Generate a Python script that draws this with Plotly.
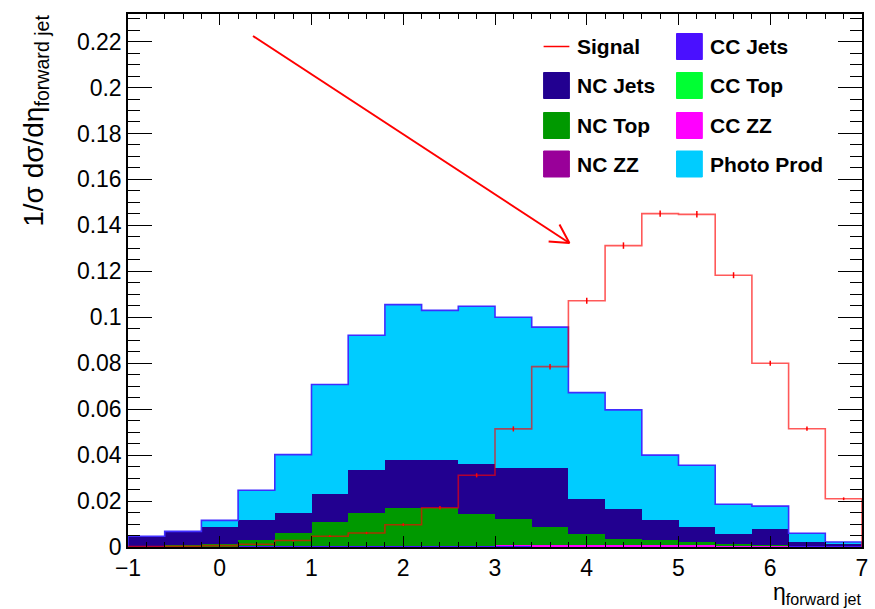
import numpy as np
import plotly.graph_objects as go

# ---------------- data ----------------
bin_edges = [-1.0, -0.6, -0.2, 0.2, 0.6, 1.0, 1.4, 1.8, 2.2, 2.6, 3.0,
             3.4, 3.8, 4.2, 4.6, 5.0, 5.4, 5.8, 6.2, 6.6, 7.0]

nc_zz = [0, 0, 0, 0, 0, 0, 0, 0, 0, 0, 0, 0, 0, 0, 0, 0, 0.0004, 0.0004, 0.0002, 0.0001]
cc_jets = [0, 0.0002, 0.0002, 0.0003, 0.0005, 0.0006, 0.0006, 0.0006, 0.0006, 0.0006, 0.0005,
           0, 0, 0, 0, 0, 0, 0, 0.0003, 0.0004]
cc_top = [0, 0, 0, 0, 0, 0, 0, 0, 0, 0, 0, 0, 0, 0, 0, 0, 0, 0, 0, 0]
cc_zz = [0, 0, 0, 0, 0, 0, 0, 0, 0, 0, 0.0003, 0.0008, 0.0008, 0.0008, 0.0008, 0.0008, 0.0004, 0.0002, 0, 0]
nc_top = [0, 0.0008, 0.001, 0.0027, 0.0057, 0.0104, 0.0144, 0.0164, 0.0164, 0.0136, 0.0112,
          0.0079, 0.005, 0.0028, 0.0021, 0.0012, 0.0006, 0.0004, 0.0001, 0]
nc_jets = [0.0047, 0.0058, 0.0075, 0.0089, 0.0088, 0.0122, 0.0187, 0.0207, 0.0207, 0.0221, 0.0224,
           0.0259, 0.0152, 0.0131, 0.009, 0.0067, 0.0044, 0.007, 0.0016, 0.0009]
photo_prod = [0, 0, 0.0029, 0.0128, 0.0252, 0.0475, 0.0585, 0.0678, 0.0653, 0.0685, 0.0656,
              0.0611, 0.0462, 0.043, 0.0281, 0.0269, 0.0128, 0.0098, 0.0038, 0.0008]

signal = [0.0002, 0.0003, 0.0006, 0.0012, 0.0028, 0.0047, 0.0061, 0.0097, 0.0171, 0.0312,
          0.0514, 0.0785, 0.1072, 0.1312, 0.1451, 0.1448, 0.1183, 0.0800, 0.0515, 0.0210]
signal_err = [0.0001, 0.0001, 0.0002, 0.0002, 0.0003, 0.0004, 0.0005, 0.0006, 0.0008, 0.0009,
              0.0011, 0.0012, 0.0013, 0.0014, 0.0014, 0.0014, 0.0013, 0.0011, 0.0009, 0.0006]

x_ticks = [-1, 0, 1, 2, 3, 4, 5, 6, 7]

# ---------------- geometry ----------------
W, H = 875, 609
ML, MR, MT, MB = 128, 7, 14, 62
PW, PH = W - ML - MR, H - MT - MB
XR = [-1, 7]
YR = [0, 0.232]

def px2paper(px, py):
    return (px - ML) / PW, (H - MB - py) / PH

edges = np.array(bin_edges)
centers = (edges[:-1] + edges[1:]) / 2
widths = np.diff(edges)

stack = [
    ("NC ZZ", nc_zz, "#990099"),
    ("CC Jets", cc_jets, "#4a10ff"),
    ("CC Top", cc_top, "#00ff33"),
    ("CC ZZ", cc_zz, "#ff00ff"),
    ("NC Top", nc_top, "#009900"),
    ("NC Jets", nc_jets, "#220090"),
    ("Photo Prod", photo_prod, "#00ccff"),
]

fig = go.Figure()
for name, vals, col in stack:
    fig.add_trace(go.Bar(x=centers, y=vals, width=widths, name=name,
                         marker=dict(color=col, line=dict(width=0)),
                         showlegend=False, hoverinfo="skip"))

total = np.sum([np.array(v) for _, v, _ in stack], axis=0)

def step_xy(vals):
    xs = [edges[0]] + list(edges[:-1]) + [edges[-1], edges[-1]]
    ys = [0] + list(vals) + [vals[-1], 0]
    return xs, ys

ox, oy = step_xy(total)
fig.add_trace(go.Scatter(x=ox, y=oy, mode="lines", line=dict(color="#3f2dff", width=1.6, shape="hv"),
                         showlegend=False, hoverinfo="skip"))

sx, sy = step_xy(signal)
fig.add_trace(go.Scatter(x=sx, y=sy, mode="lines",
                         line=dict(color="rgba(255,0,0,0.65)", width=1.6, shape="hv"),
                         showlegend=False, hoverinfo="skip"))
fig.add_trace(go.Scatter(x=centers, y=signal, mode="markers", marker=dict(size=1, color="red"),
                         error_y=dict(type="data", array=signal_err, visible=True, color="red",
                                      thickness=1.5, width=0),
                         showlegend=False, hoverinfo="skip"))

# ---------------- arrow ----------------
xs_per_px = (XR[1] - XR[0]) / PW
ys_per_px = (YR[1] - YR[0]) / PH
def px2data(px, py):
    return XR[0] + (px - ML) * xs_per_px, YR[0] + (H - MB - py) * ys_per_px

a0 = np.array([254.0, 36.0])
a1 = np.array([573.0, 243.0])
d = a0 - a1
ang = np.arctan2(d[1], d[0])
hl = 21
h1 = a1 + hl * np.array([np.cos(ang + 0.5), np.sin(ang + 0.5)])
h2 = a1 + hl * np.array([np.cos(ang - 0.5), np.sin(ang - 0.5)])
arrow_pts = [a0, a1, None, h1, a1, h2]
axs, ays = [], []
for p in arrow_pts:
    if p is None:
        axs.append(None); ays.append(None)
    else:
        dx, dy = px2data(*p)
        axs.append(dx); ays.append(dy)
fig.add_trace(go.Scatter(x=axs, y=ays, mode="lines", line=dict(color="#ff0000", width=2),
                         showlegend=False, hoverinfo="skip"))

# ---------------- legend (manual) ----------------
FONT = "Liberation Sans, Arial, Helvetica, sans-serif"
shapes = []
annotations = []
legend_items = [
    ("Signal", "line", "#ff0000", 0, 0),
    ("CC Jets", "box", "#4a10ff", 1, 0),
    ("NC Jets", "box", "#220090", 0, 1),
    ("CC Top", "box", "#00ff33", 1, 1),
    ("NC Top", "box", "#009900", 0, 2),
    ("CC ZZ", "box", "#ff00ff", 1, 2),
    ("NC ZZ", "box", "#990099", 0, 3),
    ("Photo Prod", "box", "#00ccff", 1, 3),
]
col_x = [547, 681]
row_y = [46.5, 85.5, 125.5, 164]
for label, kind, col, c, r in legend_items:
    x0 = col_x[c]; yc = row_y[r]
    if kind == "line":
        p0 = px2paper(x0, yc); p1 = px2paper(x0 + 26, yc)
        shapes.append(dict(type="line", xref="paper", yref="paper", x0=p0[0], y0=p0[1],
                           x1=p1[0], y1=p1[1], line=dict(color=col, width=1.5)))
    else:
        p0 = px2paper(x0, yc + 13); p1 = px2paper(x0 + 26, yc - 13)
        shapes.append(dict(type="rect", xref="paper", yref="paper", x0=p0[0], y0=p0[1],
                           x1=p1[0], y1=p1[1], fillcolor=col, line=dict(color=col, width=1)))
    tp = px2paper(x0 + 32, yc)
    annotations.append(dict(xref="paper", yref="paper", x=tp[0], y=tp[1], xanchor="left",
                            yanchor="middle", showarrow=False, text="<b>%s</b>" % label,
                            font=dict(family=FONT, size=21, color="black")))

# axis titles
yt = px2paper(35, 13)
annotations.append(dict(xref="paper", yref="paper", x=yt[0], y=yt[1], xanchor="center", yanchor="top",
                        textangle=-90, showarrow=False,
                        text="1/σ dσ/dη<sub>forward jet</sub>",
                        font=dict(family=FONT, size=28, color="black")))
xt = px2paper(869, 593)
annotations.append(dict(xref="paper", yref="paper", x=xt[0], y=xt[1], xanchor="right", yanchor="middle",
                        showarrow=False, text="η<sub>forward jet</sub>",
                        font=dict(family=FONT, size=23, color="black")))

axis_common = dict(showgrid=False, zeroline=False, showline=True, linecolor="black", linewidth=1.5,
                   mirror="ticks", ticks="inside", tickcolor="black", tickwidth=1,
                   tickfont=dict(family=FONT, size=23, color="black"))

fig.update_layout(
    width=W, height=H,
    margin=dict(l=ML, r=MR, t=MT, b=MB, pad=0),
    paper_bgcolor="white", plot_bgcolor="white",
    barmode="stack", bargap=0,
    showlegend=False,
    shapes=shapes, annotations=annotations,
    xaxis=dict(range=XR, tickvals=x_ticks, ticktext=[("\u2212%d" % -t) if t < 0 else str(t) for t in x_ticks],
               ticklen=11, minor=dict(dtick=0.2, tick0=-1, ticklen=5.5, ticks="inside", tickcolor="black"),
               **axis_common),
    yaxis=dict(range=YR, dtick=0.02, tick0=0, ticklen=24,
               minor=dict(dtick=0.005, tick0=0, ticklen=12, ticks="inside", tickcolor="black"),
               **axis_common),
)

fig.write_html("out.html")
